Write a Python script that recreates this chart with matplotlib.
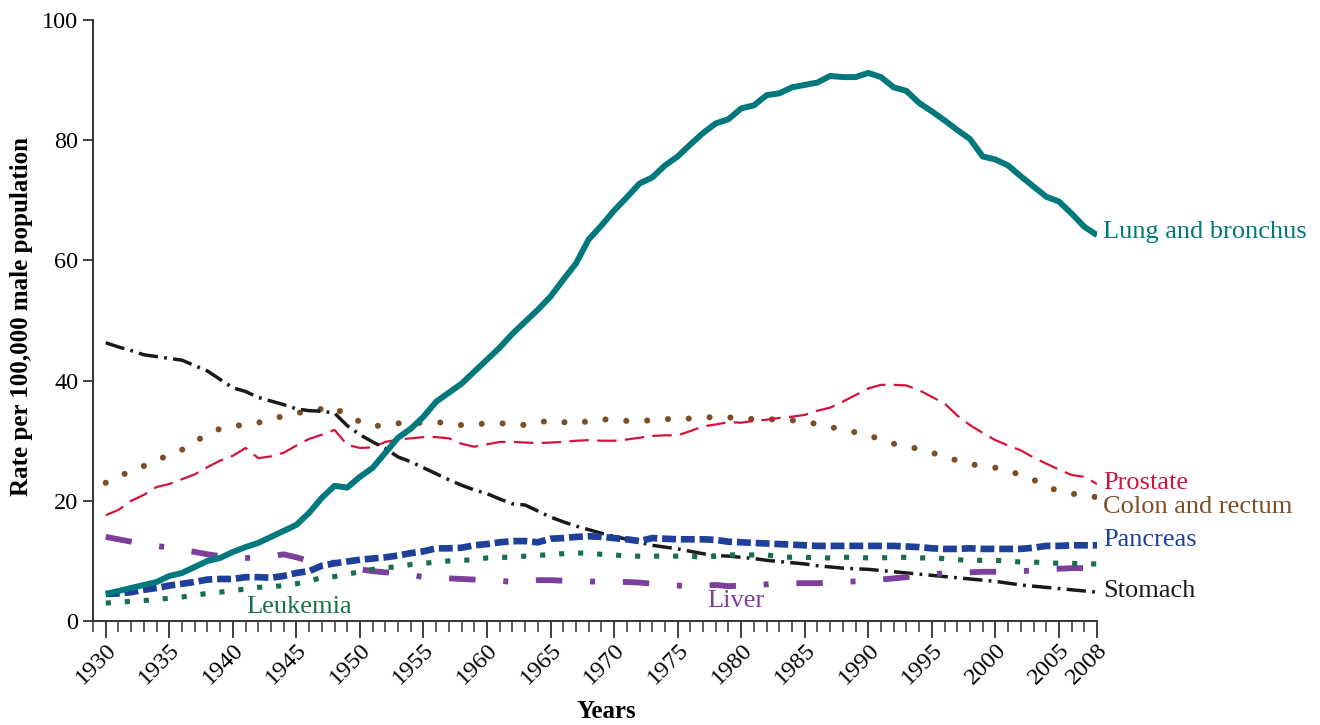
import matplotlib
matplotlib.use("Agg")
import matplotlib.pyplot as plt
from matplotlib.ticker import MultipleLocator, FixedLocator

plt.rcParams['font.family'] = ['Liberation Serif', 'DejaVu Serif']
plt.rcParams['lines.scale_dashes'] = False

years = list(range(1930, 2009))

lung = [4.5, 5, 5.5, 6, 6.5, 7.5, 8, 9, 10, 10.5,
        11.5, 12.3, 13, 14, 15, 16, 18, 20.5, 22.5, 22.2,
        24, 25.5, 28, 30.5, 32, 34, 36.5, 38, 39.5, 41.5,
        43.5, 45.5, 47.8, 49.8, 51.8, 54, 56.8, 59.5, 63.5, 65.8,
        68.3, 70.5, 72.8, 73.8, 75.8, 77.3, 79.3, 81.2, 82.8, 83.5,
        85.3, 85.8, 87.5, 87.8, 88.8, 89.2, 89.6, 90.7, 90.5, 90.5,
        91.2, 90.5, 88.8, 88.2, 86.2, 84.8, 83.3, 81.7, 80.2, 77.3,
        76.8, 75.8, 74, 72.3, 70.6, 69.8, 67.8, 65.6, 64.2]

stomach = [46.3, 45.6, 45, 44.3, 44, 43.7, 43.4, 42.5, 41.6, 40.2,
           38.8, 38.2, 37.2, 36.6, 36, 35.3, 35, 34.9, 34.6, 32.5,
           31, 29.8, 28.7, 27.3, 26.5, 25.5, 24.5, 23.5, 22.6, 21.8,
           21.2, 20.3, 19.5, 19.3, 18.3, 17.3, 16.5, 15.8, 15.2, 14.6,
           14.1, 13.6, 13.1, 12.6, 12.3, 12, 11.6, 11.2, 10.9, 10.8,
           10.6, 10.4, 10.1, 9.9, 9.7, 9.5, 9.2, 9, 8.8, 8.7,
           8.6, 8.4, 8.2, 8.0, 7.8, 7.6, 7.4, 7.2, 7, 6.8,
           6.6, 6.3, 6.0, 5.8, 5.6, 5.4, 5.2, 5.0, 4.8]

prostate = [17.6, 18.5, 20, 21, 22.3, 22.8, 23.6, 24.4, 25.6, 26.7,
            27.5, 28.8, 27.1, 27.4, 28, 29.2, 30.3, 31, 31.8, 29.3,
            28.8, 28.9, 29.8, 30.2, 30.4, 30.6, 30.6, 30.4, 29.5, 29,
            29.4, 29.8, 29.8, 29.7, 29.6, 29.7, 29.8, 30, 30.1, 30,
            30, 30.2, 30.5, 30.8, 30.9, 30.9, 31.6, 32.4, 32.7, 33.1,
            33, 33.3, 33.5, 33.8, 34, 34.3, 35, 35.5, 36.5, 37.6,
            38.7, 39.3, 39.3, 39.2, 38.4, 37.3, 36.2, 34.2, 32.6, 31.3,
            30.1, 29.2, 28.4, 27.2, 26.2, 25.2, 24.3, 24, 22.8]

colon = [23, 24, 25, 25.8, 26.8, 27.6, 28.5, 29.8, 31.1, 32,
         32.5, 32.6, 33, 33.6, 34.1, 34.6, 34.9, 35.3, 35.6, 34,
         33.2, 32.4, 32.6, 32.9, 32.9, 33, 33.1, 32.9, 32.6, 32.7,
         32.9, 32.9, 32.8, 32.6, 33, 33.4, 33.1, 32.8, 33.3, 33.6,
         33.4, 33.3, 33.3, 33.4, 33.6, 33.6, 33.7, 33.9, 33.9, 33.9,
         33.7, 33.6, 33.6, 33.5, 33.4, 33.1, 32.8, 32.3, 31.8, 31.4,
         31, 30.1, 29.5, 29.1, 28.6, 28, 27.4, 26.7, 26.1, 25.8,
         25.5, 25, 24.3, 23.5, 22.4, 21.6, 21.2, 20.9, 20.6]

pancreas = [4.5, 4.6, 4.8, 5.2, 5.5, 5.9, 6.2, 6.5, 6.9, 7,
            7, 7.3, 7.3, 7.2, 7.5, 8, 8.3, 9.2, 9.6, 9.9,
            10.2, 10.4, 10.6, 10.9, 11.3, 11.6, 12.1, 12.1, 12.2, 12.6,
            12.8, 13.1, 13.3, 13.3, 13.1, 13.7, 13.8, 14, 14.1, 14,
            13.8, 13.6, 13.3, 13.8, 13.7, 13.6, 13.6, 13.6, 13.5, 13.2,
            13.1, 13, 12.9, 12.8, 12.7, 12.6, 12.5, 12.5, 12.5, 12.5,
            12.5, 12.5, 12.5, 12.4, 12.3, 12.1, 12, 12, 12.1, 12,
            12, 12, 12, 12.2, 12.5, 12.5, 12.6, 12.6, 12.6]

leukemia = [3, 3.1, 3.3, 3.4, 3.6, 3.8, 4, 4.3, 4.6, 4.8,
            5.1, 5.3, 5.6, 5.7, 5.9, 6.2, 6.7, 7.2, 7.4, 7.8,
            8.2, 8.6, 8.9, 9, 9.4, 9.6, 9.8, 10, 10.1, 10.2,
            10.5, 10.6, 10.6, 10.8, 10.9, 11.1, 11.2, 11.3, 11.3, 11.1,
            11, 10.8, 10.8, 10.8, 10.8, 10.8, 10.8, 10.6, 10.8, 11,
            11, 11, 11, 10.7, 10.6, 10.6, 10.5, 10.5, 10.6, 10.6,
            10.5, 10.5, 10.6, 10.6, 10.5, 10.5, 10.4, 10.2, 10.1, 10.1,
            10.1, 10, 9.8, 9.8, 9.7, 9.6, 9.6, 9.5, 9.5]

liver = [14, 13.6, 13.2, 12.9, 12.5, 12.2, 11.8, 11.5, 11.1, 10.8,
         10.6, 10.5, 10.5, 10.8, 11.1, 10.6, 10, 9.8, 9.7, 9.3,
         8.6, 8.3, 8.1, 8, 7.7, 7.3, 7.2, 7.1, 7, 6.9,
         6.8, 6.7, 6.5, 6.6, 6.8, 6.8, 6.7, 6.7, 6.6, 6.5,
         6.5, 6.5, 6.4, 6.2, 6, 5.9, 5.8, 5.9, 6, 5.8,
         5.9, 6, 6.1, 6.3, 6.3, 6.3, 6.3, 6.4, 6.5, 6.6,
         6.8, 6.9, 7.1, 7.3, 7.6, 7.8, 7.9, 8, 8.1, 8.2,
         8.2, 8.3, 8.3, 8.4, 8.6, 8.7, 8.8, 8.8, 8.8]

major_ticks = [1930, 1935, 1940, 1945, 1950, 1955, 1960, 1965, 1970,
               1975, 1980, 1985, 1990, 1995, 2000, 2005, 2008]

fig = plt.figure(figsize=(13.2, 7.25), dpi=100)
ax = fig.add_axes([0.0705, 0.1434, 0.7606, 0.829])

# colon first so the other lines sit on top of its dots
ax.plot(years, colon, color='#7a4f27', lw=4.4, linestyle=(0, (0.01, 15)),
        dash_capstyle='round', solid_capstyle='round')
ax.plot(years, prostate, color='#d2143c', lw=1.6, linestyle=(0, (14, 6)))
ax.plot(years, stomach, color='#1a1a1a', lw=2.5, linestyle=(0, (14, 4.5, 2, 4.5)))
ax.plot(years, liver, color='#7d3f9c', lw=4.2, linestyle=(0, (19, 20, 3.6, 20)))
ax.plot(years, leukemia, color='#18704a', lw=3.7, linestyle=(0, (3.7, 10)))
ax.plot(years, pancreas, color='#1e3f9a', lw=4.8, linestyle=(0, (10, 3.5)))
ax.plot(years, lung, color='#00787c', lw=4.3, solid_capstyle='butt')

ax.set_xlim(1929, 2008)
ax.set_ylim(0, 100)
ax.spines['top'].set_visible(False)
ax.spines['right'].set_visible(False)
for s in ['left', 'bottom']:
    ax.spines[s].set_linewidth(1.4)
    ax.spines[s].set_color('#333333')

ax.xaxis.set_major_locator(FixedLocator(major_ticks))
ax.xaxis.set_minor_locator(MultipleLocator(1))
ax.yaxis.set_major_locator(MultipleLocator(20))
ax.tick_params(axis='x', which='major', length=12, width=1.3, color='#333333',
               labelsize=17.5, pad=1)
ax.tick_params(axis='x', which='minor', length=8, width=1.1, color='#333333')
ax.tick_params(axis='y', which='major', length=7, width=1.3, color='#333333',
               labelsize=17.5, pad=3.5)
for lab in ax.get_xticklabels():
    lab.set_rotation(45)
    lab.set_ha('right')
    lab.set_rotation_mode('anchor')

ax.set_xlabel('Years', fontsize=18, fontweight='bold')
ax.xaxis.set_label_coords(0.511, -0.131)
ax.set_ylabel('Rate per 100,000 male population', fontsize=18, fontweight='bold')
ax.yaxis.set_label_coords(-0.060, 0.507)

lab_kw = dict(fontsize=19, va='center', ha='left', clip_on=False)
ax.text(2008.5, 64.7, 'Lung and bronchus', color='#00787c', **lab_kw)
ax.text(2008.5, 23.0, 'Prostate', color='#d2143c', **lab_kw)
ax.text(2008.5, 19.0, 'Colon and rectum', color='#7a4f27', **lab_kw)
ax.text(2008.5, 13.5, 'Pancreas', color='#1e3f9a', **lab_kw)
ax.text(2008.5, 5.0, 'Stomach', color='#1a1a1a', **lab_kw)
ax.text(1945.2, 2.3, 'Leukemia', color='#18704a', fontsize=19, ha='center', va='center')
ax.text(1979.6, 3.3, 'Liver', color='#7d3f9c', fontsize=19, ha='center', va='center')

fig.savefig('out.png', dpi=100)
